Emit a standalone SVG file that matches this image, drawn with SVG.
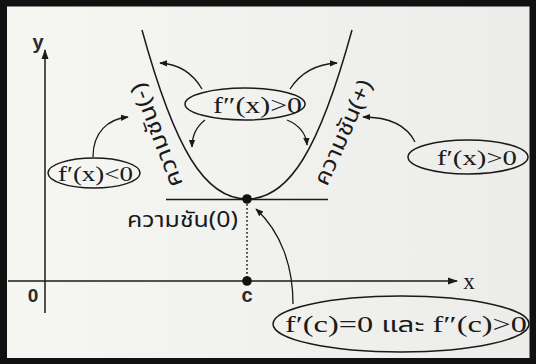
<svg xmlns="http://www.w3.org/2000/svg" width="536" height="364" viewBox="0 0 536 364">
<defs>
<marker id="ah" viewBox="0 0 10 10" refX="9" refY="5" markerWidth="8" markerHeight="8" markerUnits="userSpaceOnUse" orient="auto">
<path d="M0,1 L10,5 L0,9 Z" fill="#1a1a1a"/>
</marker>
<marker id="axah" viewBox="0 0 10 10" refX="9" refY="5" markerWidth="10" markerHeight="10" markerUnits="userSpaceOnUse" orient="auto">
<path d="M0,1.5 L10,5 L0,8.5 Z" fill="#1a1a1a"/>
</marker>
<linearGradient id="bg" x1="0" y1="0" x2="1" y2="0">
<stop offset="0" stop-color="#f6f6f3"/>
<stop offset="1" stop-color="#ecedea"/>
</linearGradient>
</defs>
<style>
.ln{fill:none;stroke:#1a1a1a;stroke-width:1.5}
.arr{fill:none;stroke:#1a1a1a;stroke-width:1.3;marker-end:url(#ah)}
.ell{fill:none;stroke:#1a1a1a;stroke-width:1.5}
.math{font-family:"Liberation Serif","DejaVu Serif",serif;fill:#1a1a1a}
.thai{font-family:"Noto Sans Thai","Noto Sans Thai Looped","Liberation Sans","DejaVu Sans",sans-serif;fill:#1a1a1a}
.lab{font-family:"Liberation Sans","DejaVu Sans",sans-serif;fill:#2a2a2a}
</style>
<rect x="0" y="0" width="536" height="364" fill="url(#bg)"/>
<rect x="3.5" y="3" width="529.5" height="358.5" fill="none" stroke="#111" stroke-width="7"/>

<g id="axes">
<line class="ln" x1="8" y1="281" x2="457" y2="281" marker-end="url(#axah)"/>
<line class="ln" x1="45" y1="313" x2="45" y2="50" marker-end="url(#axah)"/>
<text class="lab" x="38" y="49" font-size="20" font-weight="bold" text-anchor="middle">y</text>
<text class="math" x="469" y="289" font-size="23" text-anchor="middle">x</text>
<text class="lab" x="33" y="302" font-size="19" font-weight="bold" text-anchor="middle">0</text>
<text class="lab" x="247" y="302" font-size="20" font-weight="bold" text-anchor="middle">c</text>
</g>

<g id="curve">
<path class="ln" d="M142,30 C175,150 205,199 247,199 C289,199 319,150 352,30"/>
<line class="ln" x1="166" y1="199.5" x2="328" y2="199.5"/>
<line x1="247" y1="200" x2="247" y2="281" stroke="#1a1a1a" stroke-width="1.5" stroke-dasharray="1.8,2.2"/>
<circle cx="247" cy="199" r="4.8" fill="#111"/>
<circle cx="247" cy="281" r="4.8" fill="#111"/>
</g>

<g id="label-neg">
<text class="thai" font-size="22" textLength="110" lengthAdjust="spacingAndGlyphs" transform="translate(183,184) rotate(-111)">ความชัน(−)</text>
</g>
<g id="label-pos">
<text class="thai" font-size="22" textLength="113" lengthAdjust="spacingAndGlyphs" transform="translate(327,187) rotate(-66)">ความชัน(+)</text>
</g>
<g id="label-zero">
<text class="thai" x="127" y="227" font-size="21" textLength="111" lengthAdjust="spacingAndGlyphs">ความชัน(0)</text>
</g>

<g id="node-fpp">
<ellipse class="ell" cx="245" cy="104" rx="60" ry="16"/>
<text class="math" x="213" y="113" font-size="23" textLength="89" lengthAdjust="spacingAndGlyphs">f″(x)&gt;0</text>
</g>
<g id="node-fp-neg">
<ellipse class="ell" cx="94" cy="173" rx="46" ry="15"/>
<text class="math" x="58" y="181" font-size="22" textLength="75" lengthAdjust="spacingAndGlyphs">f′(x)&lt;0</text>
</g>
<g id="node-fp-pos">
<ellipse class="ell" cx="468" cy="157" rx="60" ry="17"/>
<text class="math" x="437" y="165" font-size="22" textLength="80" lengthAdjust="spacingAndGlyphs">f′(x)&gt;0</text>
</g>
<g id="node-crit">
<ellipse class="ell" cx="401" cy="324" rx="128" ry="28"/>
<text x="285" y="332" font-size="23" class="math" textLength="242" lengthAdjust="spacingAndGlyphs"><tspan>f′(c)=0 </tspan><tspan class="thai" font-size="21">และ</tspan><tspan> f″(c)&gt;0</tspan></text>
</g>

<g id="connectors">
<path class="arr" d="M93,157 C93,132 108,119 128,117"/>
<path class="arr" d="M202,89 C192,72 178,64 160,63"/>
<path class="arr" d="M290,89 C301,72 318,64 337,63"/>
<path class="arr" d="M205,120 C196,127 192,136 192,147"/>
<path class="arr" d="M287,120 C299,125 306,133 307,145"/>
<path class="arr" d="M415,142 C406,124 387,117 363,117"/>
<path class="arr" d="M293,304 C293,266 281,232 256,209"/>
</g>
</svg>
